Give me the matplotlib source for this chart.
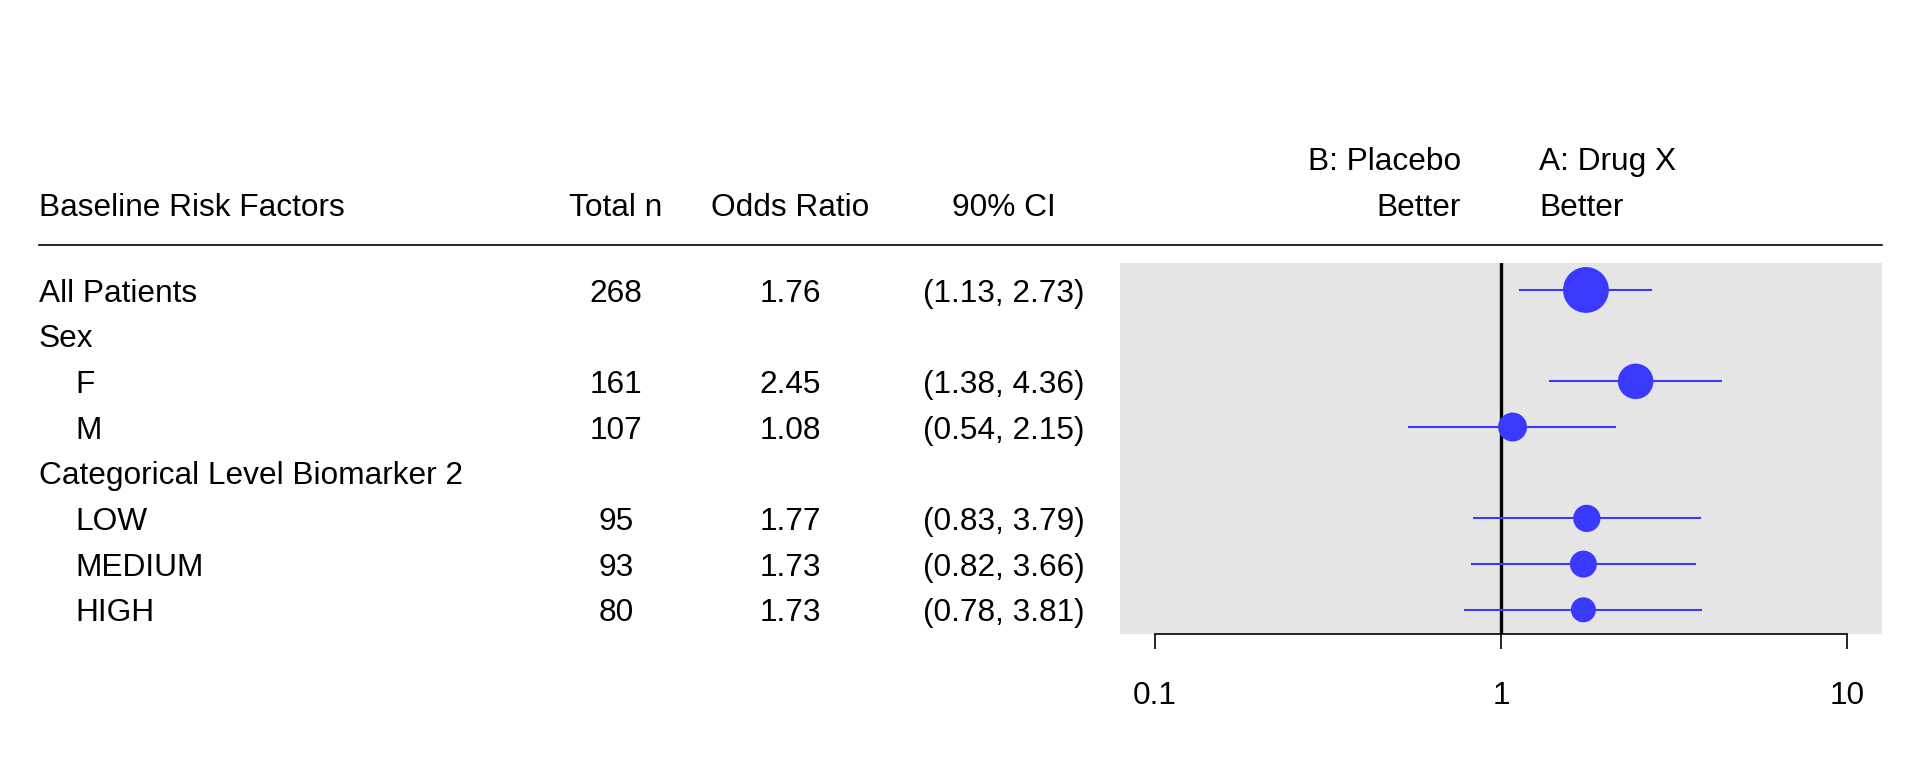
import numpy as np
import matplotlib
matplotlib.use("Agg")
import matplotlib.pyplot as plt
import matplotlib.transforms as mtransforms

plt.rcParams['font.family'] = ['Liberation Sans', 'DejaVu Sans']

labels = ["All Patients", "Sex", "F", "M", "Categorical Level Biomarker 2", "LOW", "MEDIUM", "HIGH"]
indent = [False, False, True, True, False, True, True, True]
total_n = [268, None, 161, 107, None, 95, 93, 80]
odds_ratio = [1.76, None, 2.45, 1.08, None, 1.77, 1.73, 1.73]
ci_low = [1.13, None, 1.38, 0.54, None, 0.83, 0.82, 0.78]
ci_high = [2.73, None, 4.36, 2.15, None, 3.79, 3.66, 3.81]
headers = ["Baseline Risk Factors", "Total n", "Odds Ratio", "90% CI"]
x_ticks = [0.1, 1, 10]
x_tick_labels = ["0.1", "1", "10"]
left_label = ["B: Placebo", "Better"]
right_label = ["A: Drug X", "Better"]

W, H = 1920, 768
fig = plt.figure(figsize=(W / 100, H / 100), dpi=100)

def fx(px):
    return px / W

def fy(py):
    return 1 - py / H

# forest panel
px_l, px_r, py_t, py_b = 1120, 1882, 263, 634
ax = fig.add_axes([fx(px_l), fy(py_b), fx(px_r - px_l), (py_b - py_t) / H])
ax.set_facecolor('#E5E5E5')
ax.set_xscale('log')
ax.set_xlim(10 ** -1.101, 10 ** 1.101)
ax.set_ylim(7.53, -0.59)
for s in ['top', 'left', 'right']:
    ax.spines[s].set_visible(False)
ax.spines['bottom'].set_bounds(0.1, 10)
ax.spines['bottom'].set_linewidth(1.2)
ax.set_yticks([])
ax.set_xticks(x_ticks)
ax.set_xticklabels(x_tick_labels)
ax.xaxis.set_minor_locator(matplotlib.ticker.NullLocator())
ax.tick_params(axis='x', length=11, width=1.2, pad=22.8, labelsize=22.8, direction='out')

ax.axvline(1, color='black', lw=2.4, zorder=2)

blue = '#3A3AFF'
for i in range(len(labels)):
    if odds_ratio[i] is None:
        continue
    ax.plot([ci_low[i], ci_high[i]], [i, i], color=blue, lw=1.5, zorder=3, solid_capstyle='butt')
    ax.scatter([odds_ratio[i]], [i], s=4.06 * total_n[i], color=blue, edgecolors='none', zorder=4)

# table text
shift = mtransforms.ScaledTranslation(0, -3.6 / 100, fig.dpi_scale_trans)
tr = mtransforms.blended_transform_factory(fig.transFigure, ax.transData) + shift
ftr = fig.transFigure + shift
fs = 22.8
x_lab, x_ind, x_n, x_or, x_ci = fx(39), fx(75), fx(616), fx(790), fx(1004)
for i, lab in enumerate(labels):
    fig.text(x_ind if indent[i] else x_lab, i, lab, transform=tr, ha='left', va='center', fontsize=fs)
    if total_n[i] is not None:
        fig.text(x_n, i, f"{total_n[i]}", transform=tr, ha='center', va='center', fontsize=fs)
        fig.text(x_or, i, f"{odds_ratio[i]:.2f}", transform=tr, ha='center', va='center', fontsize=fs)
        fig.text(x_ci, i, f"({ci_low[i]:.2f}, {ci_high[i]:.2f})", transform=tr, ha='center', va='center', fontsize=fs)

# headers
y_h = fy(204.5)
y_h2 = fy(158)
fig.text(x_lab, y_h, headers[0], transform=ftr, ha='left', va='center', fontsize=fs)
fig.text(x_n, y_h, headers[1], transform=ftr, ha='center', va='center', fontsize=fs)
fig.text(x_or, y_h, headers[2], transform=ftr, ha='center', va='center', fontsize=fs)
fig.text(x_ci, y_h, headers[3], transform=ftr, ha='center', va='center', fontsize=fs)
fig.text(fx(1461), y_h2, left_label[0], transform=ftr, ha='right', va='center', fontsize=fs)
fig.text(fx(1461), y_h, left_label[1], transform=ftr, ha='right', va='center', fontsize=fs)
fig.text(fx(1539), y_h2, right_label[0], transform=ftr, ha='left', va='center', fontsize=fs)
fig.text(fx(1539), y_h, right_label[1], transform=ftr, ha='left', va='center', fontsize=fs)

# header rule
fig.add_artist(plt.Line2D([fx(39), fx(1882)], [fy(245), fy(245)], color='black', lw=1.2))

fig.savefig('out.png', dpi=100, facecolor='white')
